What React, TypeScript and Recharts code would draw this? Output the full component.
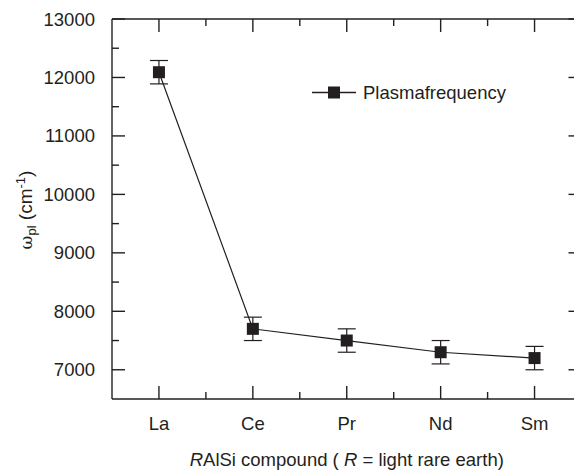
import { LineChart, Line, XAxis, YAxis, ErrorBar, ReferenceLine } from 'recharts'

const categories = ['La', 'Ce', 'Pr', 'Nd', 'Sm']
const plasmaFrequency = [12090, 7700, 7500, 7300, 7200]
const plasmaError = [200, 200, 200, 200, 200]

const xTicks = [1, 1.5, 2, 2.5, 3, 3.5, 4, 4.5, 5]
const yTicks = [7000, 7500, 8000, 8500, 9000, 9500, 10000, 10500, 11000, 11500, 12000, 12500, 13000]
const xDomain = [0.5, 5.5]
const yDomain = [6500, 13000]

const data = categories.map((name, i) => ({
  pos: i + 1,
  name,
  value: plasmaFrequency[i],
  err: plasmaError[i],
}))

const W = 574
const H = 466
const LEFT = 104
const RIGHT = 573.5
const TOP = 11
const BOTTOM = 391
const INK = '#231f20'
const FONT = '"Liberation Sans", Arial, sans-serif'
const MAJOR = 13
const MINOR = 7
const SW = 1.4

const isMajorY = (v: number) => v % 1000 === 0
const isMajorX = (v: number) => Number.isInteger(v)

// inward ticks on left + mirrored on right
const LeftTick = (props: any) => {
  const y = props.payload.coordinate
  const v = props.payload.value
  const len = isMajorY(v) ? MAJOR : MINOR
  return (
    <g>
      <line x1={LEFT} x2={LEFT + len} y1={y} y2={y} stroke={INK} strokeWidth={SW} />
      <line x1={RIGHT} x2={RIGHT - len} y1={y} y2={y} stroke={INK} strokeWidth={SW} />
      {isMajorY(v) && (
        <text x={LEFT - 17} y={y} dy={6.5} textAnchor="end" fontSize={18.5} fontFamily={FONT} fill={INK}>
          {v}
        </text>
      )}
    </g>
  )
}

// inward ticks on bottom + mirrored on top
const BottomTick = (props: any) => {
  const x = props.payload.coordinate
  const v = props.payload.value
  const len = isMajorX(v) ? MAJOR : MINOR
  return (
    <g>
      <line x1={x} x2={x} y1={BOTTOM} y2={BOTTOM - len} stroke={INK} strokeWidth={SW} />
      <line x1={x} x2={x} y1={TOP} y2={TOP + len} stroke={INK} strokeWidth={SW} />
      {isMajorX(v) && (
        <text x={x} y={BOTTOM + 31} textAnchor="middle" fontSize={18.5} fontFamily={FONT} fill={INK}>
          {categories[v - 1]}
        </text>
      )}
    </g>
  )
}

const Square = (props: any) => {
  const { cx, cy } = props
  if (cx == null || cy == null) return null
  return <rect key={`sq-${cx}`} x={cx - 6} y={cy - 6} width={12} height={12} fill={INK} />
}

export default function App() {
  return (
    <LineChart
      width={W}
      height={H}
      data={data}
      margin={{ top: TOP, right: W - RIGHT, bottom: 0, left: 0 }}
    >
      <XAxis
        dataKey="pos"
        type="number"
        domain={xDomain}
        ticks={xTicks}
        interval={0}
        height={H - BOTTOM}
        stroke={INK}
        strokeWidth={SW}
        tickLine={false}
        tick={<BottomTick />}
      />
      <YAxis
        type="number"
        domain={yDomain}
        ticks={yTicks}
        interval={0}
        width={LEFT}
        stroke={INK}
        strokeWidth={SW}
        tickLine={false}
        tick={<LeftTick />}
        label={{
          content: () => (
            <text
              transform={`translate(24, ${(TOP + BOTTOM) / 2 + 1}) rotate(-90)`}
              textAnchor="middle"
              fontSize={19}
              fontFamily={FONT}
              fill={INK}
            >
              <tspan fontFamily='"DejaVu Serif", serif' fontSize={17}>ω</tspan>
              <tspan fontSize={13} dy={4}>pl</tspan>
              <tspan dy={-4}> (cm</tspan>
              <tspan fontSize={13} dy={-7}>-1</tspan>
              <tspan dy={7}>)</tspan>
            </text>
          ),
        }}
      />
      <ReferenceLine x={xDomain[1]} stroke={INK} strokeWidth={SW} ifOverflow="visible" />
      <Line
        dataKey="value"
        name="Plasmafrequency"
        stroke={INK}
        strokeWidth={1.2}
        dot={<Square />}
        isAnimationActive={false}
      >
        <ErrorBar dataKey="err" direction="y" width={9} stroke={INK} strokeWidth={1.2} isAnimationActive={false} />
      </Line>
      <g>
        <line x1={304} x2={348} y1={84.5} y2={84.5} stroke={INK} strokeWidth={1.3} />
        <rect x={320} y={78.5} width={12} height={12} fill={INK} />
        <text x={355} y={91} fontSize={18.5} fontFamily={FONT} fill={INK}>
          Plasmafrequency
        </text>
      </g>
      <text x={(LEFT + RIGHT) / 2} y={H - 8} textAnchor="middle" fontSize={18.5} fontFamily={FONT} fill={INK}>
        <tspan fontStyle="italic">R</tspan>AlSi compound ( <tspan fontStyle="italic">R</tspan> = light rare earth)
      </text>
      {/* top frame line */}
      <line x1={LEFT} x2={RIGHT} y1={TOP} y2={TOP} stroke={INK} strokeWidth={SW} />
    </LineChart>
  )
}
